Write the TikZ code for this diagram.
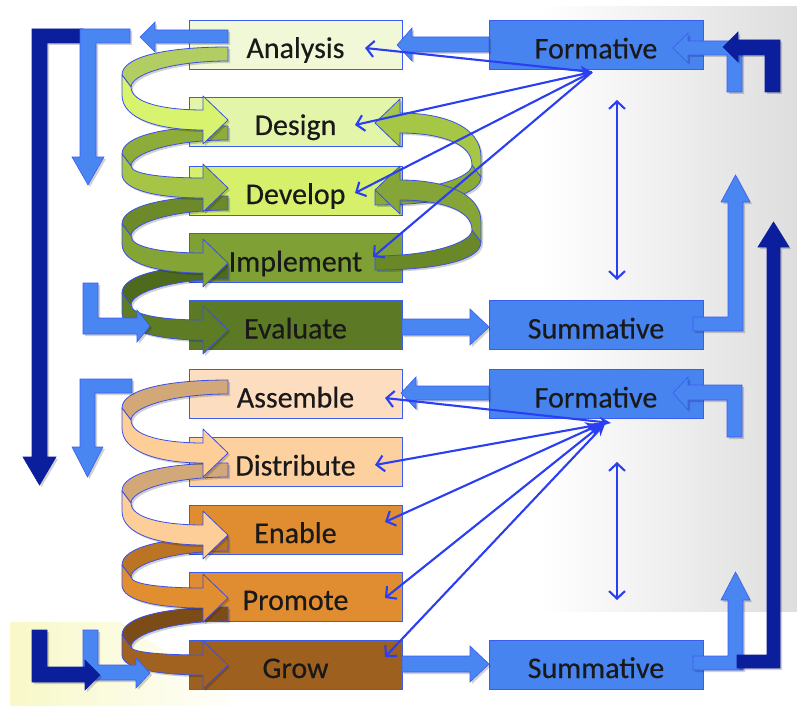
\documentclass[tikz,border=0pt]{standalone}
\usepackage{fontspec}
\setmainfont[FakeBold=0.4]{Carlito}
\usetikzlibrary{arrows.meta}
\definecolor{bbord}{HTML}{3A5CF0}
\definecolor{sbord}{HTML}{3A50E8}
\definecolor{bluebox}{HTML}{4884F0}
\definecolor{bluearr}{HTML}{4A86F2}
\definecolor{navy}{HTML}{0B1E9C}
\definecolor{tblue}{HTML}{2A3EF2}
\definecolor{cAna}{HTML}{F0F8D8}
\definecolor{cDes}{HTML}{E2F5A8}
\definecolor{cDev}{HTML}{D6F06C}
\definecolor{cImp}{HTML}{7FA034}
\definecolor{cEva}{HTML}{5C7A26}
\definecolor{cAss}{HTML}{FDDDBF}
\definecolor{cDis}{HTML}{FDD0A0}
\definecolor{cEna}{HTML}{E08C30}
\definecolor{cPro}{HTML}{E08C30}
\definecolor{cGro}{HTML}{9E601E}
\definecolor{cSAb}{HTML}{B2CD62}
\definecolor{cSAf}{HTML}{D8F36E}
\definecolor{cSBb}{HTML}{8EAC3A}
\definecolor{cSBf}{HTML}{A6C546}
\definecolor{cSCb}{HTML}{6C8A2A}
\definecolor{cSCf}{HTML}{84A436}
\definecolor{cSDb}{HTML}{4E6A1C}
\definecolor{cSDf}{HTML}{5E7C24}
\definecolor{cSEb}{HTML}{D3A878}
\definecolor{cSEf}{HTML}{FDCE98}
\definecolor{cSGb}{HTML}{BA7424}
\definecolor{cSGf}{HTML}{E08E30}
\definecolor{cSHb}{HTML}{7C4C18}
\definecolor{cSHf}{HTML}{A0621E}
\definecolor{cRAb}{HTML}{8AAA38}
\definecolor{cRAf}{HTML}{A6C646}
\definecolor{cRBb}{HTML}{6A8828}
\definecolor{cRBf}{HTML}{86A538}
\definecolor{paleY}{HTML}{F8F8C8}
\newcommand\lseg[4]{%
 \filldraw[band,fill=#3] (228,#1) .. controls (165,#1) and (122,#1+10) .. (122,#1+28)
   -- (131,#1+40) .. controls (131,#1+28) and (170,#1+14) .. (228,#1+14) -- cycle;
 \filldraw[band,fill=#4] (122,#1+28) -- (122,#1+48)
   .. controls (122,{#1+48+0.7*(#2-#1-38)}) and (160,#2+10) .. (203,#2+10)
   -- (203,#2+24) -- (228,#2) -- (203,#2-24) -- (203,#2-10)
   .. controls (165,#2-10) and (131,{#1+40+0.7*(#2-#1-50)}) .. (131,#1+40) -- cycle;
}
\newcommand\rseg[4]{%
 \filldraw[band,fill=#3] (375,#1) .. controls (438,#1) and (481,#1-10) .. (481,#1-28)
   -- (472,#1-40) .. controls (472,#1-28) and (433,#1-14) .. (375,#1-14) -- cycle;
 \filldraw[band,fill=#4] (481,#1-28) -- (481,#1-48)
   .. controls (481,{#1-48-0.7*(#1-#2-38)}) and (443,#2-10) .. (400,#2-10)
   -- (400,#2-24) -- (375,#2) -- (400,#2+24) -- (400,#2+10)
   .. controls (438,#2+10) and (472,{#1-40-0.7*(#1-#2-50)}) .. (472,#1-40) -- cycle;
}
\begin{document}
\begin{tikzpicture}[x=1pt,y=-1pt,
  box/.style={draw=bbord, line width=0.8pt, minimum width=213pt, minimum height=49pt, inner sep=0pt, outer sep=0pt, anchor=north west},
  lbl/.style={font=\fontsize{30}{34}\selectfont, inner sep=0pt, text=black!90, anchor=base},
  shd/.style={preaction={draw=none, fill=black, fill opacity=0.18, transform canvas={shift={(2pt,-2pt)}}}},
  band/.style={draw=sbord, line width=0.8pt, line join=round, shd},
  blk/.style={fill=bluearr, draw=bbord, line width=0.6pt, shd},
  nav/.style={fill=navy, draw=navy, line width=0.6pt, shd},
  thinarr/.style={draw=tblue, line width=2.1pt},
  barb/.tip={Straight Barb[length=7.5pt,width=16pt,line width=2.1pt]},
  stl/.tip={Stealth[length=12pt,width=10pt]}
]
\useasboundingbox (0,0) rectangle (797,706);
\fill[white] (0,0) rectangle (797,706);
\shade[left color=white, right color=black!13] (540,7) rectangle (797,611);
\shade[left color=paleY, right color=white] (10,622) -- (120,622) -- (250,706) -- (10,706) -- cycle;

% boxes
\node[box, fill=cAna] (ana) at (189,20) {};
\node[box, fill=cDes] (des) at (189,97) {};
\node[box, fill=cDev] (dev) at (189,166) {};
\node[box, fill=cImp] (imp) at (189,233.5) {};
\node[box, fill=cEva] (eva) at (189,300.5) {};
\node[box, fill=cAss] (ass) at (189,369.5) {};
\node[box, fill=cDis] (dis) at (189,437.5) {};
\node[box, fill=cEna] (ena) at (189,505) {};
\node[box, fill=cPro] (pro) at (189,572) {};
\node[box, fill=cGro] (gro) at (189,640) {};
\node[box, fill=bluebox, minimum width=214pt] (fo1) at (489,20.5) {};
\node[box, fill=bluebox, minimum width=214pt] (su1) at (489,300.5) {};
\node[box, fill=bluebox, minimum width=214pt] (fo2) at (489,369.5) {};
\node[box, fill=bluebox, minimum width=214pt] (su2) at (489,640) {};

% left spirals
\lseg{265}{330}{cSDb}{cSDf}
\lseg{196}{263}{cSCb}{cSCf}
\lseg{126}{188}{cSBb}{cSBf}
\lseg{47}{120}{cSAb}{cSAf}
\lseg{607}{665}{cSHb}{cSHf}
\lseg{537}{598}{cSGb}{cSGf}
\lseg{463}{535}{cSEb}{cSEf}
\lseg{380}{453}{cSEb}{cSEf}
% right loops
\rseg{205}{123}{cRAb}{cRAf}
\rseg{270}{190}{cRBb}{cRBf}

% block arrows
\filldraw[blk] (489,37) -- (412,37) -- (412,28) -- (397,45) -- (412,61) -- (412,52) -- (489,52) -- cycle;
\filldraw[blk] (489,386) -- (416,386) -- (416,377) -- (401,393) -- (416,409) -- (416,400) -- (489,400) -- cycle;
\filldraw[blk] (402,319) -- (470,319) -- (470,309) -- (489,327) -- (470,345) -- (470,335) -- (402,335) -- cycle;
\filldraw[blk] (402,656) -- (470,656) -- (470,646) -- (489,664) -- (470,682) -- (470,672) -- (402,672) -- cycle;
\filldraw[blk] (228,30) -- (155,30) -- (155,22) -- (140,37) -- (155,52) -- (155,43) -- (228,43) -- cycle;
% left brackets
\filldraw[nav] (83,29) -- (32,29) -- (32,457) -- (23,457) -- (39.5,485) -- (56,457) -- (47,457) -- (47,43) -- (83,43) -- cycle;
\filldraw[blk] (130,29) -- (80,29) -- (80,157) -- (72,157) -- (88,185) -- (104,157) -- (96,157) -- (96,43) -- (130,43) -- cycle;
\filldraw[blk] (83,283) -- (98,283) -- (98,318) -- (137,318) -- (137,310) -- (150,326) -- (137,342) -- (137,334) -- (83,334) -- cycle;
\filldraw[blk] (132,379) -- (80,379) -- (80,447) -- (72,447) -- (87.5,477) -- (103,447) -- (95,447) -- (95,393) -- (132,393) -- cycle;
\filldraw[blk] (83,630) -- (98,630) -- (98,665) -- (136,665) -- (136,658) -- (150,673) -- (136,688) -- (136,680) -- (83,680) -- cycle;
\filldraw[nav] (32,630) -- (47,630) -- (47,667) -- (85,667) -- (85,660) -- (100,675) -- (85,690) -- (85,682) -- (32,682) -- cycle;
% right brackets
\filldraw[blk] (742,92) -- (742,41) -- (688,41) -- (688,33) -- (673,48) -- (688,63) -- (688,55) -- (727,55) -- (727,92) -- cycle;
\filldraw[nav] (780,92) -- (780,40) -- (738,40) -- (738,32) -- (723,47) -- (738,62) -- (738,55) -- (765,55) -- (765,92) -- cycle;
\filldraw[blk] (693,317) -- (728,317) -- (728,202) -- (721,202) -- (735.5,175) -- (750,202) -- (743,202) -- (743,331) -- (693,331) -- cycle;
\filldraw[blk] (742,437) -- (742,385) -- (688,385) -- (688,377) -- (673,393) -- (688,410) -- (688,400) -- (727,400) -- (727,437) -- cycle;
\filldraw[blk] (693,656) -- (728,656) -- (728,600) -- (721,600) -- (735.5,572) -- (750,600) -- (743,600) -- (743,670) -- (693,670) -- cycle;
\filldraw[nav] (737,655) -- (767,655) -- (767,247) -- (758,247) -- (773.5,222) -- (789,247) -- (780,247) -- (780,668) -- (737,668) -- cycle;

% thin arrows
\coordinate (hubA) at (592,72);
\coordinate (hubB) at (603,423);
\coordinate (tAna) at (365,48);
\coordinate (tDes) at (355,125);
\coordinate (tDev) at (355,193);
\coordinate (tImp) at (373,257);
\coordinate (tAss) at (385,398);
\coordinate (tDis) at (375,465);
\coordinate (tEna) at (385,522);
\coordinate (tPro) at (385,598);
\coordinate (tGro) at (385,657);
\draw[thinarr, barb-stl] (tAna) -- (hubA);
\draw[thinarr, -barb] (hubA) -- (tDes);
\draw[thinarr, -barb] (hubA) -- (tDev);
\draw[thinarr, -barb] (hubA) -- (tImp);
\draw[thinarr, barb-stl] (tAss) -- ([xshift=8pt]hubB);
\draw[thinarr, barb-stl] (tDis) -- ([xshift=-6pt,yshift=-2pt]hubB);
\draw[thinarr, barb-stl] (tEna) -- (hubB);
\draw[thinarr, barb-stl] (tPro) -- ([xshift=-3pt,yshift=-3pt]hubB);
\draw[thinarr, barb-stl] (tGro) -- ([xshift=2pt,yshift=-1pt]hubB);
\coordinate (vA1) at (617,100);
\coordinate (vA2) at (617,280);
\coordinate (vB1) at (617,462);
\coordinate (vB2) at (617,600);
\draw[thinarr, barb-barb] (vA1) -- (vA2);
\draw[thinarr, barb-barb] (vB1) -- (vB2);

% labels
\node[lbl] (anaT) at ([yshift=-13.5pt]ana.center) {Analysis};
\node[lbl] (desT) at ([yshift=-13.5pt]des.center) {Design};
\node[lbl] (devT) at ([yshift=-13.5pt]dev.center) {Develop};
\node[lbl] (impT) at ([yshift=-13.5pt]imp.center) {Implement};
\node[lbl] (evaT) at ([yshift=-13.5pt]eva.center) {Evaluate};
\node[lbl] (assT) at ([yshift=-13.5pt]ass.center) {Assemble};
\node[lbl] (disT) at ([yshift=-13.5pt]dis.center) {Distribute};
\node[lbl] (enaT) at ([yshift=-13.5pt]ena.center) {Enable};
\node[lbl] (proT) at ([yshift=-13.5pt]pro.center) {Promote};
\node[lbl] (groT) at ([yshift=-13.5pt]gro.center) {Grow};
\node[lbl] (fo1T) at ([yshift=-13.5pt]fo1.center) {Formative};
\node[lbl] (su1T) at ([yshift=-13.5pt]su1.center) {Summative};
\node[lbl] (fo2T) at ([yshift=-13.5pt]fo2.center) {Formative};
\node[lbl] (su2T) at ([yshift=-13.5pt]su2.center) {Summative};
\end{tikzpicture}
\end{document}
